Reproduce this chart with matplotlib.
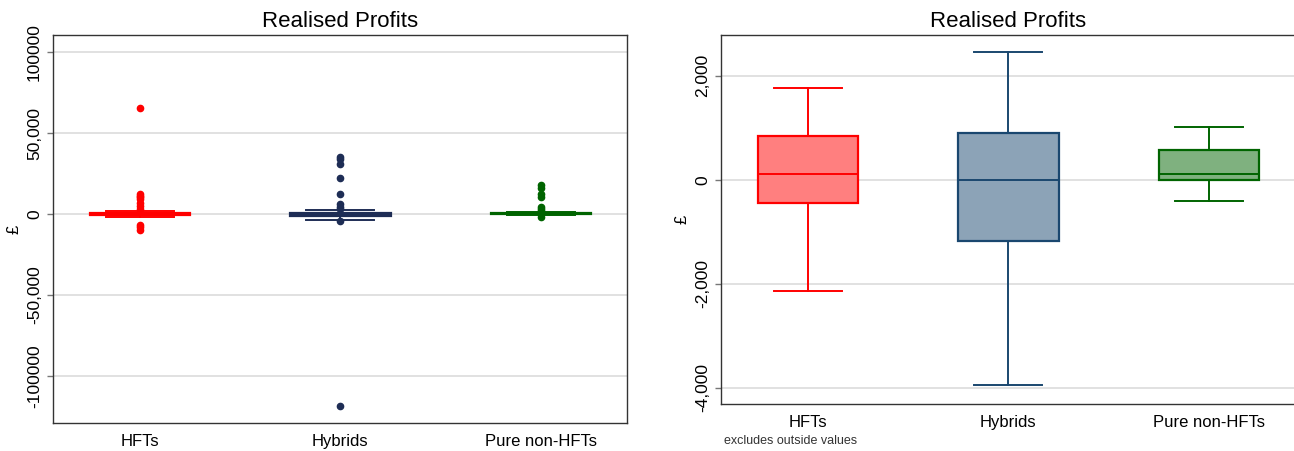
import numpy as np
import matplotlib.pyplot as plt

plt.rcParams['font.family'] = ['Liberation Sans', 'DejaVu Sans']

groups = ['HFTs', 'Hybrids', 'Pure non-HFTs']

# box statistics, in £
whislo = [-2143, -3937, -409]
q1 = [-447, -1171, 0]
med = [104, -10, 115]
q3 = [845, 891, 565]
whishi = [1761, 2458, 1018]

# outside values shown in the left-hand chart
fliers = [
    [65400, 12300, 11000, 10700, 9000, 6800, 5000, 3000, -6800, -8200, -9900],
    [35400, 33800, 30900, 22000, 12100, 6000, 4500, 3000, -4100, -118700],
    [17900, 15900, 12300, 10300, 4500, 3000, 2000, -1700],
]

edge_left = ['#FF0000', '#1E2D55', '#006400']
edge_right = ['#FF0000', '#1A476F', '#006400']
fill_right = ['#FF7F7F', '#8CA3B7', '#7FB17F']

left_ticks = [100000, 50000, 0, -50000, -100000]
left_ticklabels = ['100000', '50,000', '0', '-50,000', '-100000']
right_ticks = [2000, 0, -2000, -4000]
right_ticklabels = ['2,000', '0', '-2,000', '-4,000']


def make_stats(with_fliers):
    stats = []
    for i in range(len(groups)):
        stats.append({'med': med[i], 'q1': q1[i], 'q3': q3[i],
                      'whislo': whislo[i], 'whishi': whishi[i],
                      'fliers': fliers[i] if with_fliers else []})
    return stats


def draw(ax, stats, edges, fills):
    pos = np.arange(1, len(groups) + 1)
    for i, st in enumerate(stats):
        c = edges[i]
        ax.bxp([st], positions=[pos[i]], widths=0.5, capwidths=0.34,
               patch_artist=True, showfliers=True,
               boxprops=dict(facecolor=fills[i], edgecolor=c, linewidth=1.6),
               medianprops=dict(color=c, linewidth=1.4),
               whiskerprops=dict(color=c, linewidth=1.4),
               capprops=dict(color=c, linewidth=1.4),
               flierprops=dict(marker='o', markersize=4.5, markerfacecolor=c,
                               markeredgecolor=c, linestyle='none'))
    ax.set_xlim(0.566, 3.43)
    ax.set_xticks(pos)
    ax.set_xticklabels(groups, fontsize=12)
    ax.tick_params(axis='x', length=0, pad=8)
    ax.tick_params(axis='y', length=4, width=1, color='#777777', labelsize=12.5, pad=4)
    for lab in ax.get_yticklabels():
        lab.set_rotation(90)
        lab.set_va('center')
    ax.grid(axis='y', color='#DCDCDC', linewidth=1.2)
    ax.set_axisbelow(True)
    for s in ax.spines.values():
        s.set_color('#333333')
        s.set_linewidth(1.0)
    ax.set_title('Realised Profits', fontsize=16, pad=6)
    ax.set_ylabel('£', fontsize=12, labelpad=4)


fig = plt.figure(figsize=(12.94, 4.51), dpi=100)

ax1 = fig.add_axes([53 / 1294, 1 - 423 / 451, 574 / 1294, 388 / 451])
ax1.set_ylim(-129012, 110494)
ax1.set_yticks(left_ticks)
ax1.set_yticklabels(left_ticklabels)
draw(ax1, make_stats(True), edge_left, edge_left)

ax2 = fig.add_axes([721 / 1294, 1 - 404 / 451, 574 / 1294, 369 / 451])
ax2.set_ylim(-4308, 2779)
ax2.set_yticks(right_ticks)
ax2.set_yticklabels(right_ticklabels)
draw(ax2, make_stats(False), edge_right, fill_right)
ax2.text(0.005, -0.085, 'excludes outside values', transform=ax2.transAxes,
         fontsize=9, color='#333333', va='top', ha='left')

fig.savefig('out.png', dpi=100)
